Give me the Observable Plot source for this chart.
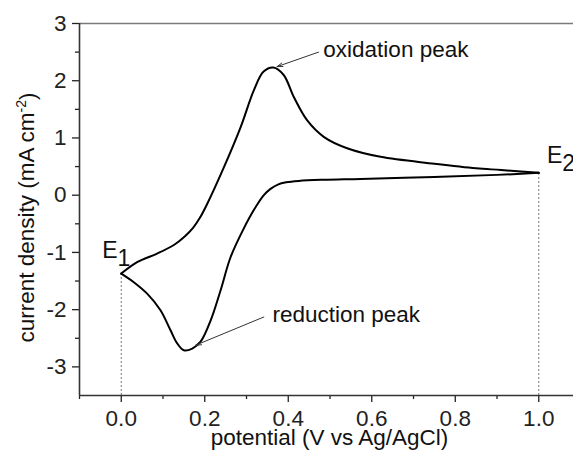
<!DOCTYPE html>
<html>
<head>
<meta charset="utf-8">
<script src="https://cdn.jsdelivr.net/npm/d3@7"></script>
<script src="https://cdn.jsdelivr.net/npm/@observablehq/plot@0.6"></script>
<style>
  html, body { margin: 0; padding: 0; background: white; }
</style>
</head>
<body>
<div id="chart"></div>
<script>
// Forward (anodic) sweep from E1 to E2
const fwdPotential = [0, 0.038, 0.086, 0.126, 0.152, 0.172, 0.188, 0.204, 0.246, 0.286, 0.318, 0.341, 0.364, 0.389, 0.413, 0.445, 0.485, 0.541, 0.621, 0.75, 0.85, 0.91, 1.0];
const fwdCurrent   = [-1.37, -1.17, -1.02, -0.87, -0.72, -0.57, -0.40, -0.18, 0.49, 1.19, 1.84, 2.16, 2.23, 2.10, 1.72, 1.31, 1.02, 0.82, 0.67, 0.55, 0.47, 0.44, 0.39];
// Reverse (cathodic) sweep from E2 back to E1
const revPotential = [1.0, 0.9, 0.75, 0.573, 0.485, 0.425, 0.395, 0.375, 0.3575, 0.3415, 0.3175, 0.2936, 0.262, 0.238, 0.214, 0.19, 0.17, 0.15, 0.134, 0.118, 0.094, 0.062, 0.030, 0];
const revCurrent   = [0.39, 0.355, 0.32, 0.285, 0.27, 0.25, 0.225, 0.185, 0.11, 0.0, -0.26, -0.58, -1.08, -1.66, -2.19, -2.56, -2.68, -2.71, -2.59, -2.36, -2.01, -1.72, -1.52, -1.37];

// Switching potentials
const switchNames = ["E1", "E2"];
const switchPotential = [0, 1.0];
const switchCurrent = [-1.37, 0.39];

// Tick values
const xMajorTicks = [0, 0.2, 0.4, 0.6, 0.8, 1.0];
const xMinorTicks = [-0.1, 0.1, 0.3, 0.5, 0.7, 0.9];
const yMajorTicks = [-3, -2, -1, 0, 1, 2, 3];
const yMinorTicks = [-2.5, -1.5, -0.5, 0.5, 1.5, 2.5];

// Annotations (data coordinates)
const annoText = ["oxidation peak", "reduction peak"];
const annoTextX = [0.484, 0.362];
const annoTextY = [2.41, -2.215];
const annoArrowX1 = [0.4725, 0.3415];
const annoArrowY1 = [2.50, -2.128];
const annoArrowX2 = [0.373, 0.178];
const annoArrowY2 = [2.246, -2.622];

const labelX = "potential (V vs Ag/AgCl)";
const labelY = "current density (mA cm-2)";

const cv = [
  ...fwdPotential.map((p, i) => ({potential: p, current: fwdCurrent[i], sweep: "forward"})),
  ...revPotential.map((p, i) => ({potential: p, current: revCurrent[i], sweep: "reverse"}))
];
const switches = switchNames.map((n, i) => ({name: n, potential: switchPotential[i], current: switchCurrent[i]}));
const annos = annoText.map((t, i) => ({text: t, x: annoTextX[i], y: annoTextY[i], x1: annoArrowX1[i], y1: annoArrowY1[i], x2: annoArrowX2[i], y2: annoArrowY2[i]}));
const switchLabelOffset = [{x: -0.0455, y: 0.27}, {x: 0.0195, y: 0.17}];

const FS = 22.5;

const chart = Plot.plot({
  width: 573,
  height: 456,
  marginLeft: 79,
  marginRight: 0,
  marginTop: 23,
  marginBottom: 61,
  x: {domain: [-0.1, 1.0832]},
  y: {domain: [-3.5, 3]},
  style: {fontFamily: "'Liberation Sans', Arial, sans-serif", fontSize: FS + "px", background: "white", color: "#222"},
  marks: [
    Plot.ruleY([3], {stroke: "#7a7a7a", strokeWidth: 1.5}),
    Plot.ruleX(switches, {x: "potential", y1: -3.5, y2: "current", stroke: "#777", strokeWidth: 1, strokeDasharray: "2,2"}),
    Plot.axisY({ticks: yMinorTicks, tickSize: 4, tickFormat: () => "", strokeWidth: 1.3}),
    Plot.axisY({ticks: yMajorTicks, tickSize: 7, tickPadding: 6, fontSize: FS, tickFormat: d => String(d), label: null, strokeWidth: 1.3}),
    Plot.axisX({ticks: xMinorTicks, tickSize: 4, tickFormat: () => "", strokeWidth: 1.3}),
    Plot.axisX({ticks: xMajorTicks, tickSize: 7, tickPadding: 8, fontSize: FS, tickFormat: d => d.toFixed(1), label: null, strokeWidth: 1.3}),
    Plot.ruleX([-0.1], {stroke: "#333", strokeWidth: 1.6}),
    Plot.ruleY([-3.5], {stroke: "#333", strokeWidth: 1.6}),
    Plot.line(cv, {x: "potential", y: "current", z: "sweep", curve: "catmull-rom", stroke: "black", strokeWidth: 2}),
    Plot.arrow(annos, {x1: "x1", y1: "y1", x2: "x2", y2: "y2", stroke: "#333", strokeWidth: 1, headLength: 9, headAngle: 35}),
    Plot.text(annos, {x: "x", y: "y", text: "text", textAnchor: "start", lineAnchor: "bottom", fontSize: FS, fill: "#111"}),
    Plot.text(switches, {x: (d, i) => d.potential + switchLabelOffset[i].x, y: (d, i) => d.current + switchLabelOffset[i].y, text: "name", textAnchor: "start", lineAnchor: "bottom", fontSize: 23, fill: "#111"}),
    Plot.text([labelX], {frameAnchor: "bottom", text: d => d, lineAnchor: "bottom", dy: 49, dx: 3, fontSize: FS, fill: "#111"}),
    Plot.text([labelY], {frameAnchor: "left", text: d => d, rotate: -90, dx: -53, dy: 8, textAnchor: "middle", lineAnchor: "middle", fontSize: FS, fill: "#111"})
  ]
});
document.getElementById("chart").appendChild(chart);

// Make sure the tick labels use the full size
d3.select(chart).selectAll("g[aria-label$='tick label']").attr("font-size", FS).style("font-size", FS + "px");

// Subscripts / superscript as real text tspans
d3.select(chart).selectAll("text").each(function() {
  const t = this.textContent;
  const sel = d3.select(this);
  if (t === "E1" || t === "E2") {
    sel.text("E");
    sel.append("tspan").attr("dy", "0.33em").text(t.slice(1));
  } else if (t === labelY) {
    sel.text("current density (mA cm");
    sel.append("tspan").attr("dy", "-0.55em").attr("font-size", "14px").text("-2");
    sel.append("tspan").attr("dy", "0.4em").text(")");
  }
});
</script>
</body>
</html>
